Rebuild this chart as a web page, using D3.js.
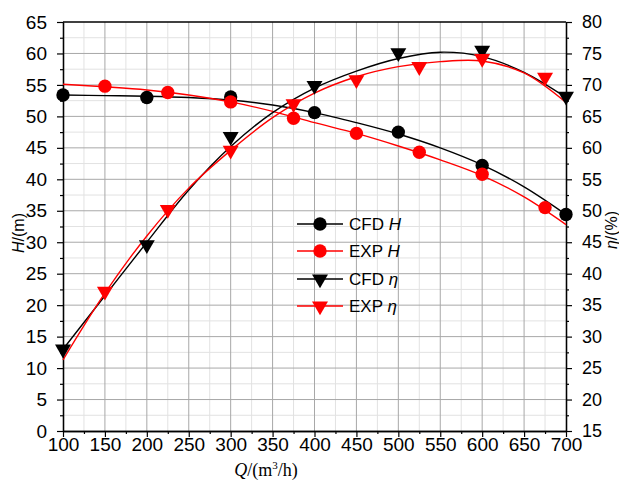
<!DOCTYPE html>
<html>
<head>
<meta charset="utf-8">
<script src="https://cdn.jsdelivr.net/npm/d3@7"></script>
<style>
  body { margin: 0; background: #fff; }
  svg { display: block; font-family: "Liberation Sans", Arial, sans-serif; }
</style>
</head>
<body>
<svg id="chart" width="619" height="482"></svg>
<script>
// --- data ---
const qTicks = [100, 150, 200, 250, 300, 350, 400, 450, 500, 550, 600, 650, 700];
const hTicks = [0, 5, 10, 15, 20, 25, 30, 35, 40, 45, 50, 55, 60, 65];
const etaTicks = [15, 20, 25, 30, 35, 40, 45, 50, 55, 60, 65, 70, 75, 80];

// measured points
const cfdQ = [100, 200, 300, 400, 500, 600, 700];
const cfdH = [53.4, 53.0, 53.1, 50.6, 47.5, 42.2, 34.4];
const cfdEta = [28.0, 44.6, 61.8, 69.9, 75.1, 75.5, 68.2];
const expQ = [150, 225, 300, 375, 450, 525, 600, 675];
const expH = [54.8, 53.8, 52.3, 49.7, 47.3, 44.3, 40.8, 35.5];
const expEta = [37.2, 50.2, 59.6, 67.0, 70.8, 72.9, 74.2, 71.2];

// fitted curves, read every 50 m3/h
const fitQ = [100, 150, 200, 250, 300, 350, 400, 450, 500, 550, 600, 650, 700];
const cfdHFit = [53.4, 53.3, 53.2, 53.0, 52.6, 51.8, 50.6, 49.0, 47.2, 45.0, 42.3, 38.8, 34.4];
const expHFit = [55.1, 54.7, 54.2, 53.4, 52.3, 50.8, 49.0, 47.3, 45.3, 43.1, 40.6, 37.2, 32.8];
const cfdEtaFit = [28.0, 36.5, 45.0, 53.3, 60.2, 65.6, 69.5, 72.2, 74.2, 75.2, 74.5, 72.0, 68.0];
const expEtaFit = [26.3, 36.9, 46.0, 53.6, 59.6, 64.8, 68.7, 71.3, 72.9, 73.7, 73.8, 71.9, 67.2];

const W = 619, H = 482;
const m = { top: 22, right: 53, bottom: 51, left: 63 };
const svg = d3.select('#chart');

const x = d3.scaleLinear().domain([100, 700]).range([m.left, W - m.right]);
const yH = d3.scaleLinear().domain([0, 65]).range([H - m.bottom, m.top]);
const yE = d3.scaleLinear().domain([15, 80]).range([H - m.bottom, m.top]);

// --- grid ---
const grid = svg.append('g');
const qMinor = d3.range(125, 700, 50);
const hMinor = d3.range(2.5, 65, 5);
grid.selectAll('.vm').data(qMinor).enter().append('line')
  .attr('x1', d => x(d)).attr('x2', d => x(d))
  .attr('y1', yH(0)).attr('y2', yH(65))
  .attr('stroke', '#e2e2e2').attr('stroke-width', 1);
grid.selectAll('.hm').data(hMinor).enter().append('line')
  .attr('y1', d => yH(d)).attr('y2', d => yH(d))
  .attr('x1', x(100)).attr('x2', x(700))
  .attr('stroke', '#e2e2e2').attr('stroke-width', 1);
grid.selectAll('.vM').data(qTicks.slice(1, -1)).enter().append('line')
  .attr('x1', d => x(d)).attr('x2', d => x(d))
  .attr('y1', yH(0)).attr('y2', yH(65))
  .attr('stroke', '#a8a8a8').attr('stroke-width', 1);
grid.selectAll('.hM').data(hTicks.slice(1, -1)).enter().append('line')
  .attr('y1', d => yH(d)).attr('y2', d => yH(d))
  .attr('x1', x(100)).attr('x2', x(700))
  .attr('stroke', '#a8a8a8').attr('stroke-width', 1);

// --- axes ---
function styleAxis(g, size) {
  g.selectAll('path.domain').attr('stroke', '#000').attr('stroke-width', 1.3);
  g.selectAll('.tick line').attr('stroke', '#000').attr('stroke-width', 1.2);
  g.selectAll('.tick text').attr('fill', '#000')
    .style('font-size', size || '19px').style('font-family', '"Liberation Sans", Arial, sans-serif');
}

const xAxis = svg.append('g').attr('transform', `translate(0,${H - m.bottom})`)
  .call(d3.axisBottom(x).tickValues(qTicks).tickSize(6).tickPadding(1).tickSizeOuter(0));
styleAxis(xAxis);
svg.append('g').attr('transform', `translate(0,${H - m.bottom})`)
  .call(d3.axisBottom(x).tickValues(qMinor).tickSize(3).tickFormat('').tickSizeOuter(0))
  .call(styleAxis);

const yAxisL = svg.append('g').attr('transform', `translate(${m.left},0)`)
  .call(d3.axisLeft(yH).tickValues(hTicks).tickSize(6).tickPadding(10).tickSizeOuter(0));
styleAxis(yAxisL);
svg.append('g').attr('transform', `translate(${m.left},0)`)
  .call(d3.axisLeft(yH).tickValues(hMinor).tickSize(3).tickFormat('').tickSizeOuter(0))
  .call(styleAxis);

const yAxisR = svg.append('g').attr('transform', `translate(${W - m.right},0)`)
  .call(d3.axisRight(yE).tickValues(etaTicks).tickSize(6).tickPadding(10).tickSizeOuter(0));
styleAxis(yAxisR, '18px');
svg.append('g').attr('transform', `translate(${W - m.right},0)`)
  .call(d3.axisRight(yE).tickValues(d3.range(17.5, 80, 5)).tickSize(3).tickFormat('').tickSizeOuter(0))
  .call(styleAxis);

// top frame
svg.append('line').attr('x1', x(100)).attr('x2', x(700)).attr('y1', yH(65)).attr('y2', yH(65))
  .attr('stroke', '#000').attr('stroke-width', 1.3);

// --- axis titles ---
const lt = svg.append('text')
  .attr('transform', 'translate(24,233) rotate(-90)')
  .attr('text-anchor', 'middle').style('font-size', '16px');
lt.append('tspan').style('font-style', 'italic').text('H');
lt.append('tspan').text('/(m)');

const rt = svg.append('text')
  .attr('transform', 'translate(617,230) rotate(-90)')
  .attr('text-anchor', 'middle').style('font-size', '16px');
rt.append('tspan').style('font-style', 'italic').text('η');
rt.append('tspan').text('/(%)');

const bt = svg.append('text')
  .attr('x', 266).attr('y', 476)
  .attr('text-anchor', 'middle')
  .style('font-family', '"Liberation Serif", "Times New Roman", serif').style('font-size', '18px');
bt.append('tspan').style('font-style', 'italic').text('Q');
bt.append('tspan').text('/(m');
bt.append('tspan').attr('dy', -7).style('font-size', '11px').text('3');
bt.append('tspan').attr('dy', 7).text('/h)');

// --- curves ---
const plot = svg.append('g');
function fitLine(ys, yScale) {
  return d3.line().x((d, i) => x(fitQ[i])).y(d => yScale(d)).curve(d3.curveCatmullRom.alpha(0.5))(ys);
}
plot.append('path').attr('d', fitLine(cfdHFit, yH)).attr('fill', 'none').attr('stroke', '#000').attr('stroke-width', 1.4);
plot.append('path').attr('d', fitLine(expHFit, yH)).attr('fill', 'none').attr('stroke', '#f00').attr('stroke-width', 1.4);
plot.append('path').attr('d', fitLine(cfdEtaFit, yE)).attr('fill', 'none').attr('stroke', '#000').attr('stroke-width', 1.4);
plot.append('path').attr('d', fitLine(expEtaFit, yE)).attr('fill', 'none').attr('stroke', '#f00').attr('stroke-width', 1.4);

// --- markers ---
const tri = d3.symbol().type(d3.symbolTriangle).size(110)();
const circ = d3.symbol().type(d3.symbolCircle).size(140)();

function markers(qs, vs, yScale, shape, color) {
  plot.append('g').selectAll('path').data(vs).enter().append('path')
    .attr('d', shape)
    .attr('transform', (d, i) => `translate(${x(qs[i])},${yScale(d)})` + (shape === tri ? ' rotate(180)' : ''))
    .attr('fill', color);
}
markers(cfdQ, cfdH, yH, circ, '#000');
markers(expQ, expH, yH, circ, '#f00');
markers(cfdQ, cfdEta, yE, tri, '#000');
markers(expQ, expEta, yE, tri, '#f00');

// --- legend ---
const legendItems = [
  { name: 'CFD ', sym: 'H', color: '#000', shape: circ },
  { name: 'EXP ', sym: 'H', color: '#f00', shape: circ },
  { name: 'CFD ', sym: 'η', color: '#000', shape: tri },
  { name: 'EXP ', sym: 'η', color: '#f00', shape: tri }
];
const legendY = [224, 251, 279, 306];
const lg = svg.append('g');
legendItems.forEach((it, i) => {
  const yy = legendY[i];
  lg.append('line').attr('x1', 297).attr('x2', 343).attr('y1', yy).attr('y2', yy)
    .attr('stroke', it.color).attr('stroke-width', 1.4);
  lg.append('path').attr('d', it.shape)
    .attr('transform', `translate(320,${yy})` + (it.shape === tri ? ' rotate(180)' : ''))
    .attr('fill', it.color);
  const t = lg.append('text').attr('x', 349).attr('y', yy + 6).style('font-size', '17px');
  t.append('tspan').text(it.name);
  t.append('tspan').style('font-style', 'italic').text(it.sym);
});
</script>
</body>
</html>
